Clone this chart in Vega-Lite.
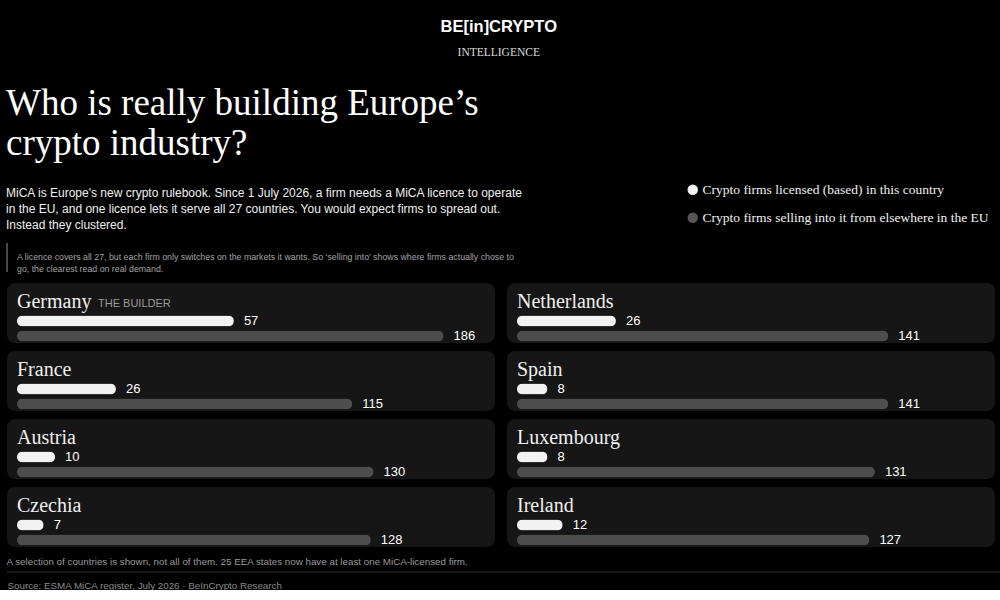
{
  "$schema": "https://vega.github.io/schema/vega-lite/v6.json",
  "background": "#000000",
  "padding": {"left": 6, "top": 19, "right": 0, "bottom": 0},
  "title": {
    "text": "BE[in]CRYPTO",
    "subtitle": "INTELLIGENCE",
    "anchor": "middle",
    "dx": -5,
    "font": "Liberation Sans",
    "fontSize": 16.5,
    "fontWeight": "bold",
    "color": "#ffffff",
    "subtitleFont": "Liberation Serif",
    "subtitleFontSize": 11.5,
    "subtitleColor": "#dddddd",
    "subtitlePadding": 11,
    "offset": 27
  },
  "spacing": 9,
  "vconcat": [
    {
      "width": 987,
      "height": 29,
      "view": {"fill": "transparent", "stroke": null},
      "title": {
        "text": ["Who is really building Europe’s", "crypto industry?"],
        "subtitle": [
          "MiCA is Europe's new crypto rulebook. Since 1 July 2026, a firm needs a MiCA licence to operate",
          "in the EU, and one licence lets it serve all 27 countries. You would expect firms to spread out.",
          "Instead they clustered."
        ],
        "anchor": "start",
        "font": "Liberation Serif",
        "fontSize": 37,
        "fontWeight": "normal",
        "lineHeight": 40,
        "color": "#ffffff",
        "subtitleFont": "Liberation Sans",
        "subtitleFontSize": 12,
        "subtitleLineHeight": 16,
        "subtitleColor": "#f0f0f0",
        "subtitlePadding": 25,
        "offset": 10
      },
      "layer": [
        {
          "data": {"values": [{"note": ["A licence covers all 27, but each firm only switches on the markets it wants. So ‘selling into’ shows where firms actually chose to", "go, the clearest read on real demand."]}]},
          "layer": [
            {
              "mark": {"type": "rule", "color": "#4a4a4a", "strokeWidth": 2},
              "encoding": {"x": {"datum": 0, "type": "quantitative", "scale": {"domain": [0, 1]}, "axis": null}}
            },
            {
              "mark": {"type": "text", "align": "left", "baseline": "middle", "dx": 10, "dy": -1, "font": "Liberation Sans", "fontSize": 8.8, "lineHeight": 12.5, "color": "#a3a3a3"},
              "encoding": {"x": {"datum": 0, "type": "quantitative"}, "text": {"field": "note"}}
            }
          ]
        },
        {
          "data": {"values": [{"series": "Crypto firms licensed (based) in this country"}, {"series": "Crypto firms selling into it from elsewhere in the EU"}]},
          "mark": {"type": "point", "filled": true, "opacity": 0},
          "encoding": {
            "color": {
              "field": "series",
              "type": "nominal",
              "scale": {"domain": ["Crypto firms licensed (based) in this country", "Crypto firms selling into it from elsewhere in the EU"], "range": ["#f2f2f2", "#555555"]},
              "legend": {
                "orient": "none",
                "legendX": 679,
                "legendY": -60,
                "title": null,
                "symbolType": "circle",
                "symbolSize": 110,
                "symbolOpacity": 1,
                "symbolStrokeWidth": 0,
                "labelFont": "Liberation Serif",
                "labelFontSize": 13.5,
                "labelColor": "#f0f0f0",
                "labelLimit": 400,
                "labelOffset": 3,
                "rowPadding": 13,
                "padding": 0
              }
            }
          }
        }
      ]
    },
    {
      "data": {
        "values": [
          {"country": "Germany", "licensed": 57, "selling": 186, "tag": "THE BUILDER"},
          {"country": "Netherlands", "licensed": 26, "selling": 141},
          {"country": "France", "licensed": 26, "selling": 115},
          {"country": "Spain", "licensed": 8, "selling": 141},
          {"country": "Austria", "licensed": 10, "selling": 130},
          {"country": "Luxembourg", "licensed": 8, "selling": 131},
          {"country": "Czechia", "licensed": 7, "selling": 128},
          {"country": "Ireland", "licensed": 12, "selling": 127}
        ]
      },
      "columns": 2,
      "spacing": {"row": 7, "column": 12},
      "concat": [
        {
          "transform": [{"filter": "datum.country === 'Germany'"}],
          "width": 488, "height": 60,
          "resolve": {"scale": {"x": "independent"}},
          "layer": [
            {"layer": [
              {"mark": {"type": "bar", "color": "#f2f2f2", "height": 11, "cornerRadius": 5.5, "orient": "horizontal"},
               "encoding": {"x": {"field": "licensed", "type": "quantitative", "scale": {"domain": [0, 123], "padding": 10, "nice": false, "zero": true}, "axis": null},
                            "y": {"datum": "licensed", "type": "nominal", "scale": {"type": "point", "domain": ["name", "licensed", "selling"], "padding": 1, "align": 0.767}, "axis": null}}},
              {"mark": {"type": "text", "align": "left", "baseline": "middle", "dx": 10, "fontSize": 13, "color": "#ffffff"},
               "encoding": {"x": {"field": "licensed", "type": "quantitative"}, "y": {"datum": "licensed", "type": "nominal"}, "text": {"field": "licensed", "type": "quantitative"}}},
              {"mark": {"type": "text", "align": "left", "baseline": "alphabetic", "dy": 2, "font": "Liberation Serif", "fontSize": 20, "color": "#f0f0f0"},
               "encoding": {"x": {"datum": 0, "type": "quantitative"}, "y": {"datum": "name", "type": "nominal"}, "text": {"field": "country", "type": "nominal"}}},
              {"mark": {"type": "text", "align": "left", "baseline": "alphabetic", "dy": 1, "dx": 81, "fontSize": 11, "color": "#9a9a9a"},
               "encoding": {"x": {"datum": 0, "type": "quantitative"}, "y": {"datum": "name", "type": "nominal"}, "text": {"field": "tag", "type": "nominal"}}}
            ]},
            {"layer": [
              {"mark": {"type": "bar", "color": "#4d4d4d", "height": 11, "cornerRadius": 5.5, "orient": "horizontal"},
               "encoding": {"x": {"field": "selling", "type": "quantitative", "scale": {"type": "sqrt", "domain": [0, 224], "padding": 10, "nice": false, "zero": true}, "axis": null},
                            "y": {"datum": "selling", "type": "nominal"}}},
              {"mark": {"type": "text", "align": "left", "baseline": "middle", "dx": 10, "fontSize": 13, "color": "#ffffff"},
               "encoding": {"x": {"field": "selling", "type": "quantitative"}, "y": {"datum": "selling", "type": "nominal"}, "text": {"field": "selling", "type": "quantitative"}}}
            ]}
          ]
        },
        {
          "transform": [{"filter": "datum.country === 'Netherlands'"}],
          "width": 488, "height": 60,
          "resolve": {"scale": {"x": "independent"}},
          "layer": [
            {"layer": [
              {"mark": {"type": "bar", "color": "#f2f2f2", "height": 11, "cornerRadius": 5.5, "orient": "horizontal"},
               "encoding": {"x": {"field": "licensed", "type": "quantitative", "scale": {"domain": [0, 123], "padding": 10, "nice": false, "zero": true}, "axis": null},
                            "y": {"datum": "licensed", "type": "nominal", "scale": {"type": "point", "domain": ["name", "licensed", "selling"], "padding": 1, "align": 0.767}, "axis": null}}},
              {"mark": {"type": "text", "align": "left", "baseline": "middle", "dx": 10, "fontSize": 13, "color": "#ffffff"},
               "encoding": {"x": {"field": "licensed", "type": "quantitative"}, "y": {"datum": "licensed", "type": "nominal"}, "text": {"field": "licensed", "type": "quantitative"}}},
              {"mark": {"type": "text", "align": "left", "baseline": "alphabetic", "dy": 2, "font": "Liberation Serif", "fontSize": 20, "color": "#f0f0f0"},
               "encoding": {"x": {"datum": 0, "type": "quantitative"}, "y": {"datum": "name", "type": "nominal"}, "text": {"field": "country", "type": "nominal"}}}
            ]},
            {"layer": [
              {"mark": {"type": "bar", "color": "#4d4d4d", "height": 11, "cornerRadius": 5.5, "orient": "horizontal"},
               "encoding": {"x": {"field": "selling", "type": "quantitative", "scale": {"type": "sqrt", "domain": [0, 224], "padding": 10, "nice": false, "zero": true}, "axis": null},
                            "y": {"datum": "selling", "type": "nominal"}}},
              {"mark": {"type": "text", "align": "left", "baseline": "middle", "dx": 10, "fontSize": 13, "color": "#ffffff"},
               "encoding": {"x": {"field": "selling", "type": "quantitative"}, "y": {"datum": "selling", "type": "nominal"}, "text": {"field": "selling", "type": "quantitative"}}}
            ]}
          ]
        },
        {
          "transform": [{"filter": "datum.country === 'France'"}],
          "width": 488, "height": 60,
          "resolve": {"scale": {"x": "independent"}},
          "layer": [
            {"layer": [
              {"mark": {"type": "bar", "color": "#f2f2f2", "height": 11, "cornerRadius": 5.5, "orient": "horizontal"},
               "encoding": {"x": {"field": "licensed", "type": "quantitative", "scale": {"domain": [0, 123], "padding": 10, "nice": false, "zero": true}, "axis": null},
                            "y": {"datum": "licensed", "type": "nominal", "scale": {"type": "point", "domain": ["name", "licensed", "selling"], "padding": 1, "align": 0.767}, "axis": null}}},
              {"mark": {"type": "text", "align": "left", "baseline": "middle", "dx": 10, "fontSize": 13, "color": "#ffffff"},
               "encoding": {"x": {"field": "licensed", "type": "quantitative"}, "y": {"datum": "licensed", "type": "nominal"}, "text": {"field": "licensed", "type": "quantitative"}}},
              {"mark": {"type": "text", "align": "left", "baseline": "alphabetic", "dy": 2, "font": "Liberation Serif", "fontSize": 20, "color": "#f0f0f0"},
               "encoding": {"x": {"datum": 0, "type": "quantitative"}, "y": {"datum": "name", "type": "nominal"}, "text": {"field": "country", "type": "nominal"}}}
            ]},
            {"layer": [
              {"mark": {"type": "bar", "color": "#4d4d4d", "height": 11, "cornerRadius": 5.5, "orient": "horizontal"},
               "encoding": {"x": {"field": "selling", "type": "quantitative", "scale": {"type": "sqrt", "domain": [0, 224], "padding": 10, "nice": false, "zero": true}, "axis": null},
                            "y": {"datum": "selling", "type": "nominal"}}},
              {"mark": {"type": "text", "align": "left", "baseline": "middle", "dx": 10, "fontSize": 13, "color": "#ffffff"},
               "encoding": {"x": {"field": "selling", "type": "quantitative"}, "y": {"datum": "selling", "type": "nominal"}, "text": {"field": "selling", "type": "quantitative"}}}
            ]}
          ]
        },
        {
          "transform": [{"filter": "datum.country === 'Spain'"}],
          "width": 488, "height": 60,
          "resolve": {"scale": {"x": "independent"}},
          "layer": [
            {"layer": [
              {"mark": {"type": "bar", "color": "#f2f2f2", "height": 11, "cornerRadius": 5.5, "orient": "horizontal"},
               "encoding": {"x": {"field": "licensed", "type": "quantitative", "scale": {"domain": [0, 123], "padding": 10, "nice": false, "zero": true}, "axis": null},
                            "y": {"datum": "licensed", "type": "nominal", "scale": {"type": "point", "domain": ["name", "licensed", "selling"], "padding": 1, "align": 0.767}, "axis": null}}},
              {"mark": {"type": "text", "align": "left", "baseline": "middle", "dx": 10, "fontSize": 13, "color": "#ffffff"},
               "encoding": {"x": {"field": "licensed", "type": "quantitative"}, "y": {"datum": "licensed", "type": "nominal"}, "text": {"field": "licensed", "type": "quantitative"}}},
              {"mark": {"type": "text", "align": "left", "baseline": "alphabetic", "dy": 2, "font": "Liberation Serif", "fontSize": 20, "color": "#f0f0f0"},
               "encoding": {"x": {"datum": 0, "type": "quantitative"}, "y": {"datum": "name", "type": "nominal"}, "text": {"field": "country", "type": "nominal"}}}
            ]},
            {"layer": [
              {"mark": {"type": "bar", "color": "#4d4d4d", "height": 11, "cornerRadius": 5.5, "orient": "horizontal"},
               "encoding": {"x": {"field": "selling", "type": "quantitative", "scale": {"type": "sqrt", "domain": [0, 224], "padding": 10, "nice": false, "zero": true}, "axis": null},
                            "y": {"datum": "selling", "type": "nominal"}}},
              {"mark": {"type": "text", "align": "left", "baseline": "middle", "dx": 10, "fontSize": 13, "color": "#ffffff"},
               "encoding": {"x": {"field": "selling", "type": "quantitative"}, "y": {"datum": "selling", "type": "nominal"}, "text": {"field": "selling", "type": "quantitative"}}}
            ]}
          ]
        },
        {
          "transform": [{"filter": "datum.country === 'Austria'"}],
          "width": 488, "height": 60,
          "resolve": {"scale": {"x": "independent"}},
          "layer": [
            {"layer": [
              {"mark": {"type": "bar", "color": "#f2f2f2", "height": 11, "cornerRadius": 5.5, "orient": "horizontal"},
               "encoding": {"x": {"field": "licensed", "type": "quantitative", "scale": {"domain": [0, 123], "padding": 10, "nice": false, "zero": true}, "axis": null},
                            "y": {"datum": "licensed", "type": "nominal", "scale": {"type": "point", "domain": ["name", "licensed", "selling"], "padding": 1, "align": 0.767}, "axis": null}}},
              {"mark": {"type": "text", "align": "left", "baseline": "middle", "dx": 10, "fontSize": 13, "color": "#ffffff"},
               "encoding": {"x": {"field": "licensed", "type": "quantitative"}, "y": {"datum": "licensed", "type": "nominal"}, "text": {"field": "licensed", "type": "quantitative"}}},
              {"mark": {"type": "text", "align": "left", "baseline": "alphabetic", "dy": 2, "font": "Liberation Serif", "fontSize": 20, "color": "#f0f0f0"},
               "encoding": {"x": {"datum": 0, "type": "quantitative"}, "y": {"datum": "name", "type": "nominal"}, "text": {"field": "country", "type": "nominal"}}}
            ]},
            {"layer": [
              {"mark": {"type": "bar", "color": "#4d4d4d", "height": 11, "cornerRadius": 5.5, "orient": "horizontal"},
               "encoding": {"x": {"field": "selling", "type": "quantitative", "scale": {"type": "sqrt", "domain": [0, 224], "padding": 10, "nice": false, "zero": true}, "axis": null},
                            "y": {"datum": "selling", "type": "nominal"}}},
              {"mark": {"type": "text", "align": "left", "baseline": "middle", "dx": 10, "fontSize": 13, "color": "#ffffff"},
               "encoding": {"x": {"field": "selling", "type": "quantitative"}, "y": {"datum": "selling", "type": "nominal"}, "text": {"field": "selling", "type": "quantitative"}}}
            ]}
          ]
        },
        {
          "transform": [{"filter": "datum.country === 'Luxembourg'"}],
          "width": 488, "height": 60,
          "resolve": {"scale": {"x": "independent"}},
          "layer": [
            {"layer": [
              {"mark": {"type": "bar", "color": "#f2f2f2", "height": 11, "cornerRadius": 5.5, "orient": "horizontal"},
               "encoding": {"x": {"field": "licensed", "type": "quantitative", "scale": {"domain": [0, 123], "padding": 10, "nice": false, "zero": true}, "axis": null},
                            "y": {"datum": "licensed", "type": "nominal", "scale": {"type": "point", "domain": ["name", "licensed", "selling"], "padding": 1, "align": 0.767}, "axis": null}}},
              {"mark": {"type": "text", "align": "left", "baseline": "middle", "dx": 10, "fontSize": 13, "color": "#ffffff"},
               "encoding": {"x": {"field": "licensed", "type": "quantitative"}, "y": {"datum": "licensed", "type": "nominal"}, "text": {"field": "licensed", "type": "quantitative"}}},
              {"mark": {"type": "text", "align": "left", "baseline": "alphabetic", "dy": 2, "font": "Liberation Serif", "fontSize": 20, "color": "#f0f0f0"},
               "encoding": {"x": {"datum": 0, "type": "quantitative"}, "y": {"datum": "name", "type": "nominal"}, "text": {"field": "country", "type": "nominal"}}}
            ]},
            {"layer": [
              {"mark": {"type": "bar", "color": "#4d4d4d", "height": 11, "cornerRadius": 5.5, "orient": "horizontal"},
               "encoding": {"x": {"field": "selling", "type": "quantitative", "scale": {"type": "sqrt", "domain": [0, 224], "padding": 10, "nice": false, "zero": true}, "axis": null},
                            "y": {"datum": "selling", "type": "nominal"}}},
              {"mark": {"type": "text", "align": "left", "baseline": "middle", "dx": 10, "fontSize": 13, "color": "#ffffff"},
               "encoding": {"x": {"field": "selling", "type": "quantitative"}, "y": {"datum": "selling", "type": "nominal"}, "text": {"field": "selling", "type": "quantitative"}}}
            ]}
          ]
        },
        {
          "transform": [{"filter": "datum.country === 'Czechia'"}],
          "width": 488, "height": 60,
          "resolve": {"scale": {"x": "independent"}},
          "layer": [
            {"layer": [
              {"mark": {"type": "bar", "color": "#f2f2f2", "height": 11, "cornerRadius": 5.5, "orient": "horizontal"},
               "encoding": {"x": {"field": "licensed", "type": "quantitative", "scale": {"domain": [0, 123], "padding": 10, "nice": false, "zero": true}, "axis": null},
                            "y": {"datum": "licensed", "type": "nominal", "scale": {"type": "point", "domain": ["name", "licensed", "selling"], "padding": 1, "align": 0.767}, "axis": null}}},
              {"mark": {"type": "text", "align": "left", "baseline": "middle", "dx": 10, "fontSize": 13, "color": "#ffffff"},
               "encoding": {"x": {"field": "licensed", "type": "quantitative"}, "y": {"datum": "licensed", "type": "nominal"}, "text": {"field": "licensed", "type": "quantitative"}}},
              {"mark": {"type": "text", "align": "left", "baseline": "alphabetic", "dy": 2, "font": "Liberation Serif", "fontSize": 20, "color": "#f0f0f0"},
               "encoding": {"x": {"datum": 0, "type": "quantitative"}, "y": {"datum": "name", "type": "nominal"}, "text": {"field": "country", "type": "nominal"}}}
            ]},
            {"layer": [
              {"mark": {"type": "bar", "color": "#4d4d4d", "height": 11, "cornerRadius": 5.5, "orient": "horizontal"},
               "encoding": {"x": {"field": "selling", "type": "quantitative", "scale": {"type": "sqrt", "domain": [0, 224], "padding": 10, "nice": false, "zero": true}, "axis": null},
                            "y": {"datum": "selling", "type": "nominal"}}},
              {"mark": {"type": "text", "align": "left", "baseline": "middle", "dx": 10, "fontSize": 13, "color": "#ffffff"},
               "encoding": {"x": {"field": "selling", "type": "quantitative"}, "y": {"datum": "selling", "type": "nominal"}, "text": {"field": "selling", "type": "quantitative"}}}
            ]}
          ]
        },
        {
          "transform": [{"filter": "datum.country === 'Ireland'"}],
          "width": 488, "height": 60,
          "resolve": {"scale": {"x": "independent"}},
          "layer": [
            {"layer": [
              {"mark": {"type": "bar", "color": "#f2f2f2", "height": 11, "cornerRadius": 5.5, "orient": "horizontal"},
               "encoding": {"x": {"field": "licensed", "type": "quantitative", "scale": {"domain": [0, 123], "padding": 10, "nice": false, "zero": true}, "axis": null},
                            "y": {"datum": "licensed", "type": "nominal", "scale": {"type": "point", "domain": ["name", "licensed", "selling"], "padding": 1, "align": 0.767}, "axis": null}}},
              {"mark": {"type": "text", "align": "left", "baseline": "middle", "dx": 10, "fontSize": 13, "color": "#ffffff"},
               "encoding": {"x": {"field": "licensed", "type": "quantitative"}, "y": {"datum": "licensed", "type": "nominal"}, "text": {"field": "licensed", "type": "quantitative"}}},
              {"mark": {"type": "text", "align": "left", "baseline": "alphabetic", "dy": 2, "font": "Liberation Serif", "fontSize": 20, "color": "#f0f0f0"},
               "encoding": {"x": {"datum": 0, "type": "quantitative"}, "y": {"datum": "name", "type": "nominal"}, "text": {"field": "country", "type": "nominal"}}}
            ]},
            {"layer": [
              {"mark": {"type": "bar", "color": "#4d4d4d", "height": 11, "cornerRadius": 5.5, "orient": "horizontal"},
               "encoding": {"x": {"field": "selling", "type": "quantitative", "scale": {"type": "sqrt", "domain": [0, 224], "padding": 10, "nice": false, "zero": true}, "axis": null},
                            "y": {"datum": "selling", "type": "nominal"}}},
              {"mark": {"type": "text", "align": "left", "baseline": "middle", "dx": 10, "fontSize": 13, "color": "#ffffff"},
               "encoding": {"x": {"field": "selling", "type": "quantitative"}, "y": {"datum": "selling", "type": "nominal"}, "text": {"field": "selling", "type": "quantitative"}}}
            ]}
          ]
        }
      ]
    },
    {
      "width": 994,
      "height": 1,
      "view": {"fill": "transparent", "stroke": null},
      "title": {
        "text": "A selection of countries is shown, not all of them. 25 EEA states now have at least one MiCA-licensed firm.",
        "anchor": "start",
        "font": "Liberation Sans",
        "fontSize": 9.8,
        "fontWeight": "normal",
        "color": "#9a9a9a",
        "offset": 4
      },
      "data": {"values": [{}]},
      "mark": {"type": "rule", "color": "#333333", "strokeWidth": 1},
      "encoding": {
        "x": {
          "datum": 0,
          "type": "quantitative",
          "scale": {"domain": [0, 1]},
          "axis": {
            "title": "Source: ESMA MiCA register, July 2026 · BeInCrypto Research",
            "labels": false,
            "ticks": false,
            "domain": false,
            "grid": false,
            "titleAnchor": "start",
            "titleFont": "Liberation Sans",
            "titleFontSize": 9.8,
            "titleFontWeight": "normal",
            "titleColor": "#8a8a8a",
            "titlePadding": 8
          }
        },
        "x2": {"datum": 1},
        "y": {"datum": 0, "type": "quantitative", "scale": {"domain": [0, 1]}, "axis": null}
      }
    }
  ],
  "config": {
    "view": {"fill": "#161616", "cornerRadius": 8, "stroke": null},
    "font": "Liberation Sans"
  }
}
